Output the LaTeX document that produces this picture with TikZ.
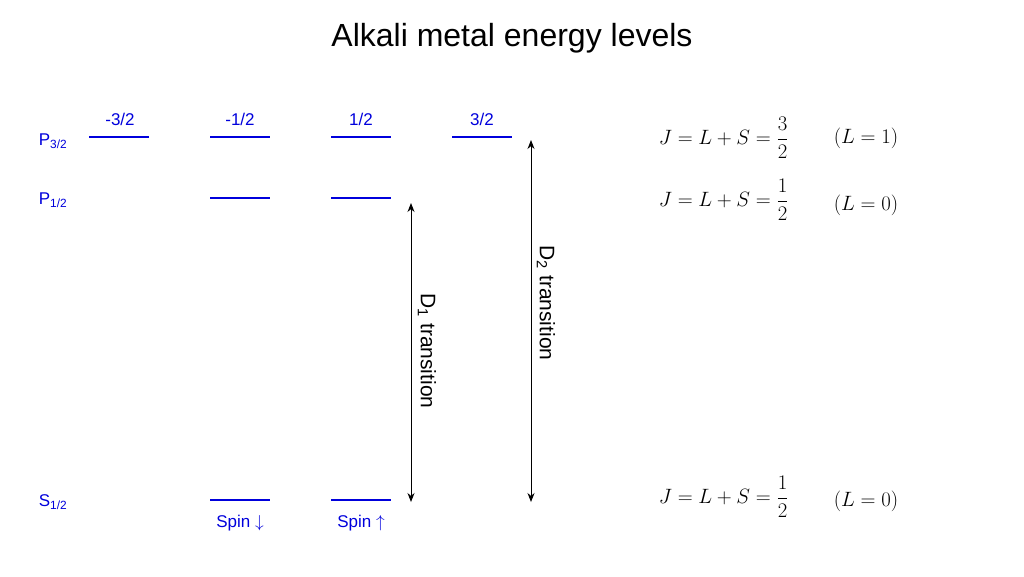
\documentclass[tikz,border=0pt]{standalone}
\usepackage{amsmath}
\usepackage{fontspec}
\setmainfont{Liberation Sans}
\usetikzlibrary{arrows.meta}
\begin{document}
\begin{tikzpicture}[x=1pt,y=-1pt,
  lvl/.style={draw={rgb,255:red,0;green,0;blue,220},line width=2pt},
  blue text/.style={text={rgb,255:red,0;green,0;blue,220},font=\fontsize{17}{20}\selectfont},
  lbl/.style={font=\fontsize{21}{24}\selectfont},
  arr/.style={{Stealth[length=9pt,width=7pt]}-{Stealth[length=9pt,width=7pt]},line width=1pt},
  eq/.style={font=\fontsize{22}{26}\selectfont}]
\useasboundingbox (0,0) rectangle (1024,576);
\node (title) at (512,38) {\fontsize{32}{36}\selectfont Alkali metal energy levels};
% levels
\foreach \n/\x in {a/89,b/210,c/331,d/452} \draw[lvl] (\x,137) coordinate (p3\n) -- ++(60,0);
\foreach \n/\x in {b/210,c/331} \draw[lvl] (\x,198) coordinate (p1\n) -- ++(60,0);
\foreach \n/\x in {b/210,c/331} \draw[lvl] (\x,500) coordinate (s\n) -- ++(60,0);
% labels
\node[blue text] (lp3) at (53,141) {P\textsubscript{3/2}};
\node[blue text] (lp1) at (53,200) {P\textsubscript{1/2}};
\node[blue text] (ls) at (53,502) {S\textsubscript{1/2}};
\node[blue text] (m1) at (120,119) {-3/2};
\node[blue text] (m2) at (240,119) {-1/2};
\node[blue text] (m3) at (361,119) {1/2};
\node[blue text] (m4) at (482,119) {3/2};
\node[blue text] (sd) at (240,523) {Spin $\downarrow$};
\node[blue text] (su) at (361,523) {Spin $\uparrow$};
% arrows
\coordinate (d1t) at (411,203); \coordinate (d1b) at (411,502);
\coordinate (d2t) at (531,140); \coordinate (d2b) at (531,502);
\draw[arr] (d1t) -- (d1b);
\draw[arr] (d2t) -- (d2b);
\node[lbl,rotate=-90] (t1) at (427,351) {D\textsubscript{1} transition};
\node[lbl,rotate=-90] (t2) at (546,303) {D\textsubscript{2} transition};
% equations
\node[eq,anchor=east] (e1) at (792,138) {$J=L+S=\dfrac{3}{2}$};
\node[eq] (f1) at (866,138) {$(L=1)$};
\node[eq,anchor=east] (e2) at (792,200) {$J=L+S=\dfrac{1}{2}$};
\node[eq] (f2) at (866,205) {$(L=0)$};
\node[eq,anchor=east] (e3) at (792,497) {$J=L+S=\dfrac{1}{2}$};
\node[eq] (f3) at (866,501) {$(L=0)$};
\end{tikzpicture}
\end{document}
